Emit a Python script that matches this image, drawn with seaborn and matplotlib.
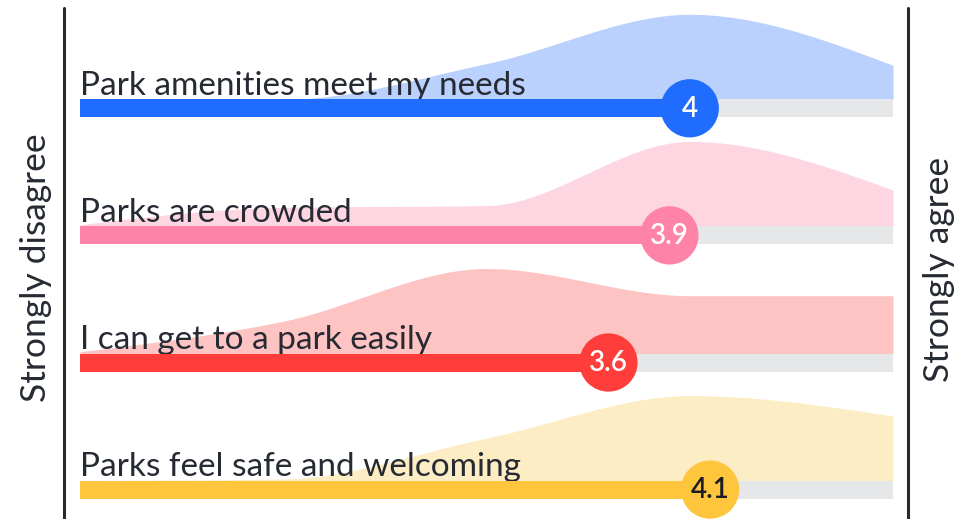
"""
Park survey: mean agreement per statement with answer distribution behind each bar
"""

import matplotlib
matplotlib.use("Agg")
import matplotlib.pyplot as plt
import numpy as np
import pandas as pd
import seaborn as sns

# data
statements = [
    "Park amenities meet my needs",
    "Parks are crowded",
    "I can get to a park easily",
    "Parks feel safe and welcoming",
]
mean_scores = [4.0, 3.9, 3.6, 4.1]
scale_points = [1, 2, 3, 4, 5]
# share of answers at each scale point
dist_amenities = [0, 0, 21, 50, 20]
dist_crowded = [1, 11, 12, 49, 21]
dist_access = [1, 19, 50, 34, 34]
dist_safe = [0, 1, 25, 50, 38]
distributions = [dist_amenities, dist_crowded, dist_access, dist_safe]
left_label = "Strongly disagree"
right_label = "Strongly agree"

bar_colors = ["#1f6cff", "#ff82a9", "#ff3e3b", "#ffc53d"]
area_colors = ["#b9d1fc", "#fdd6e2", "#fec4c3", "#fdedc5"]
value_text_colors = ["white", "white", "white", "#1b1d22"]
track_color = "#e6e7e9"
ink = "#262a33"

W, H = 961, 519
PX_Y = 127.1            # pixels between rows
BAR_H = 18 / PX_Y
AREA_H = 85 / PX_Y


def monotone_curve(xs, ys, n=60):
    """monotone cubic (d3 curveMonotoneX style) through the points"""
    xs = np.asarray(xs, float)
    ys = np.asarray(ys, float)
    h = np.diff(xs)
    s = np.diff(ys) / h
    m = np.zeros_like(ys)
    for i in range(1, len(xs) - 1):
        p = (s[i - 1] * h[i] + s[i] * h[i - 1]) / (h[i - 1] + h[i])
        m[i] = (np.sign(s[i - 1]) + np.sign(s[i])) * min(abs(s[i - 1]), abs(s[i]), 0.5 * abs(p))
    m[0] = (3 * s[0] - m[1]) / 2
    m[-1] = (3 * s[-1] - m[-2]) / 2
    out_x, out_y = [], []
    for i in range(len(xs) - 1):
        t = np.linspace(0, 1, n, endpoint=(i == len(xs) - 2))
        h00 = 2 * t**3 - 3 * t**2 + 1
        h10 = t**3 - 2 * t**2 + t
        h01 = -2 * t**3 + 3 * t**2
        h11 = t**3 - t**2
        out_x.append(xs[i] + t * h[i])
        out_y.append(h00 * ys[i] + h10 * h[i] * m[i] + h01 * ys[i + 1] + h11 * h[i] * m[i + 1])
    return np.concatenate(out_x), np.concatenate(out_y)


sns.set_theme(style="white")
plt.rcParams["font.family"] = ["Lato", "DejaVu Sans"]

fig = plt.figure(figsize=(W / 100, H / 100), dpi=100)
ax = fig.add_axes([80 / W, 0, 813 / W, 1])

rows = np.arange(len(statements))
for i, (dist, mean) in enumerate(zip(distributions, mean_scores)):
    base = i - BAR_H / 2
    cx, cy = monotone_curve(scale_points, dist)
    cy = np.clip(cy, 0, None) / max(dist) * AREA_H
    ax.fill_between(cx, base, base - cy, color=area_colors[i], lw=0, zorder=1)
    ax.text(1, base - 4.5 / PX_Y, statements[i], fontsize=24, color=ink,
            ha="left", va="baseline", zorder=2)
    ax.barh(i, scale_points[-1] - scale_points[0], left=scale_points[0],
            height=BAR_H, color=track_color, lw=0, zorder=3)
    ax.barh(i, mean - scale_points[0], left=scale_points[0],
            height=BAR_H, color=bar_colors[i], lw=0, zorder=4)

df = pd.DataFrame({"statement": statements, "mean": mean_scores, "row": rows})
sns.scatterplot(data=df, x="mean", y="row", hue="statement",
                palette=dict(zip(statements, bar_colors)), s=1760,
                linewidth=0, legend=False, zorder=5, ax=ax)
for i, mean in enumerate(mean_scores):
    ax.text(mean, i + 0.5 / PX_Y, f"{mean:g}", fontsize=20, weight="semibold",
            color=value_text_colors[i], ha="center", va="center", zorder=6)

ax.set_xlim(scale_points[0], scale_points[-1])
ax.set_ylim((H - 108.3) / PX_Y, -108.3 / PX_Y)
ax.axis("off")

# end rules and scale labels
for px in (64, 908):
    fig.add_artist(plt.Line2D([px / W, px / W], [0, 1 - 8 / H], color=ink, lw=2.2))
fig.text(36 / W, 1 - 268 / H, left_label, rotation=90, fontsize=25.5, color=ink,
         ha="center", va="center")
fig.text(939 / W, 1 - 269 / H, right_label, rotation=90, fontsize=25.5, color=ink,
         ha="center", va="center")

fig.savefig("out.png", dpi=100)
